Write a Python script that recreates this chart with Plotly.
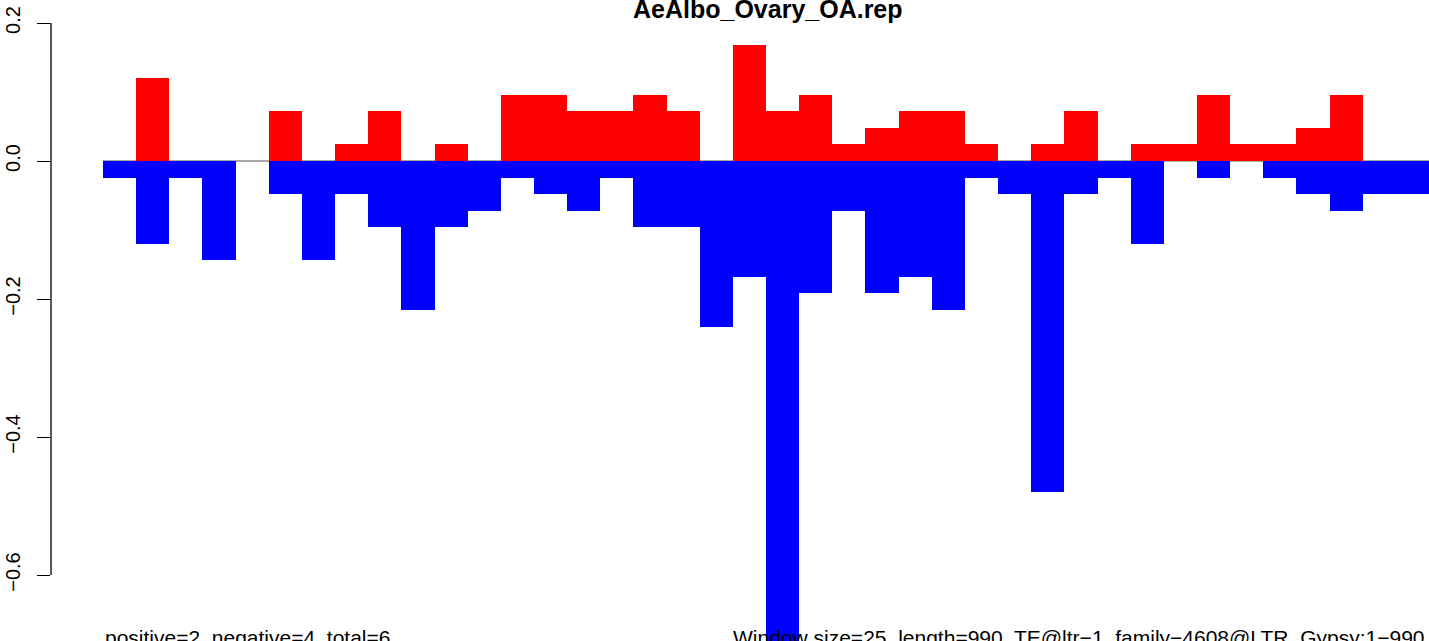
import plotly.graph_objects as go

# Window index (40 windows of size 25 over length 990)
windows = list(range(1, 41))

# positive-strand (red) and negative-strand (blue) values per window
positive = [0, 0.12, 0, 0, 0, 0.072, 0, 0.024, 0.072, 0, 0.024, 0,
            0.096, 0.096, 0.072, 0.072, 0.096, 0.072, 0, 0.168, 0.072, 0.096,
            0.024, 0.048, 0.072, 0.072, 0.024,
            0, 0.024, 0.072, 0, 0.024, 0.024, 0.096, 0.024, 0.024, 0.048, 0.096, 0, 0]
negative = [-0.024, -0.12, -0.024, -0.144, 0, -0.048, -0.144, -0.048, -0.096, -0.216,
            -0.096, -0.072, -0.024, -0.048, -0.072, -0.024, -0.096, -0.096, -0.24, -0.168,
            -0.72, -0.192, -0.072, -0.192, -0.168, -0.216, -0.024, -0.048, -0.48, -0.048,
            -0.024, -0.12, 0, -0.024, 0, -0.024, -0.048, -0.072, -0.048, -0.048]

ytick_vals = [0.2, 0.0, -0.2, -0.4, -0.6]
ytick_text = ["0.2", "0.0", "\u22120.2", "\u22120.4", "\u22120.6"]

title_text = "AeAlbo_Ovary_OA.rep"
left_note = "positive=2, negative=4, total=6"
right_note = "Window size=25, length=990, TE@ltr\u22121_family\u22124608@LTR_Gypsy:1\u2212990"

FONT = "Liberation Sans, Arial, Helvetica, sans-serif"

fig = go.Figure()
fig.add_trace(go.Bar(x=windows, y=positive, marker=dict(color="#FF0000", line=dict(width=0)),
                     showlegend=False))
fig.add_trace(go.Bar(x=windows, y=negative, marker=dict(color="#0000FF", line=dict(width=0)),
                     showlegend=False))

# zero baseline (thin grey) under the bars
fig.add_shape(type="line", xref="x", yref="y", x0=windows[0] - 0.5, x1=windows[-1] + 0.5,
              y0=0, y1=0, line=dict(color="#555555", width=1), layer="below")
# y axis line spanning only the tick range
fig.add_shape(type="line", xref="paper", yref="y", x0=0, x1=0,
              y0=min(ytick_vals), y1=max(ytick_vals), line=dict(color="black", width=1.3))

fig.update_layout(
    width=1429, height=641,
    margin=dict(l=51, r=0, t=0, b=0, pad=0, autoexpand=False),
    plot_bgcolor="white", paper_bgcolor="white",
    barmode="relative", bargap=0,
    font=dict(family=FONT, color="black"),
    xaxis=dict(range=[-1.0686, 40.5], showticklabels=False, showgrid=False,
               zeroline=False, showline=False, ticks="", automargin=False),
    yaxis=dict(range=[-0.69565, 0.23333], tickvals=ytick_vals, ticktext=ytick_text,
               ticks="outside", ticklen=13, tickwidth=1.3, tickcolor="black",
               tickangle=-90, tickfont=dict(size=20, family=FONT),
               ticklabelstandoff=9, automargin=False,
               showgrid=False, zeroline=False, showline=False),
    annotations=[
        dict(text="<b>" + title_text + "</b>", xref="paper", yref="paper",
             x=(768 - 51) / 1378, y=1.0, xanchor="center", yanchor="top",
             yshift=7, showarrow=False, font=dict(size=25, family=FONT)),
        dict(text=left_note, xref="paper", yref="paper", x=(103 - 51) / 1378, y=0,
             xanchor="left", yanchor="top", yshift=17, showarrow=False,
             font=dict(size=21, family=FONT)),
        dict(text=right_note, xref="paper", yref="paper", x=(731 - 51) / 1378, y=0,
             xanchor="left", yanchor="top", yshift=17, showarrow=False,
             font=dict(size=21, family=FONT)),
    ],
)

fig.write_html("out.html", config={"displayModeBar": False},
               post_script="document.body.style.margin='0';")
